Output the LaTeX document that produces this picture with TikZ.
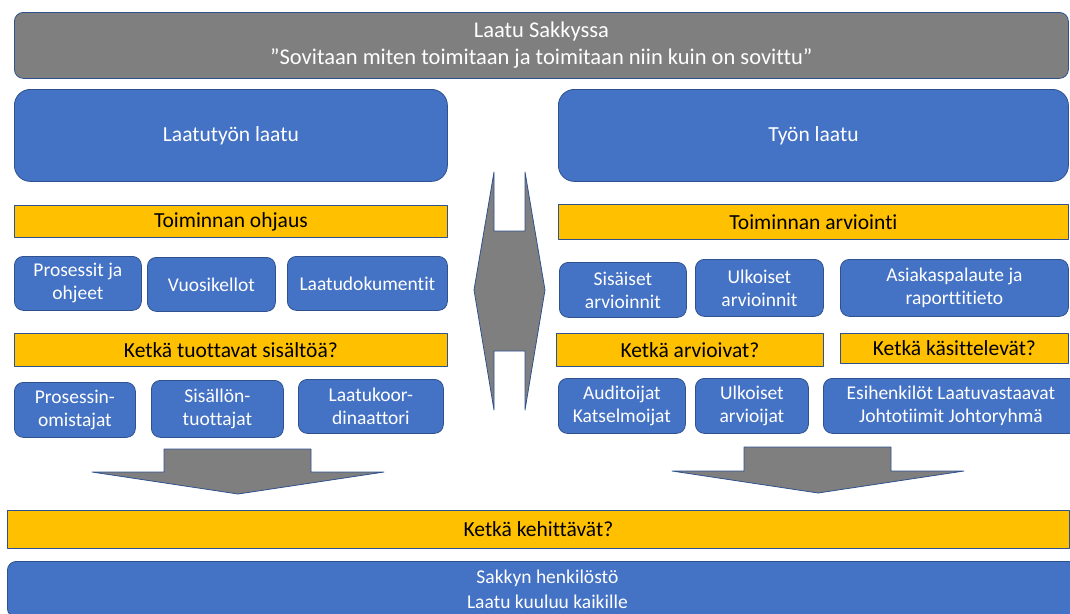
\documentclass[tikz,border=0pt]{standalone}
\usepackage{fontspec}
\setmainfont{Carlito}[Ligatures=NoCommon]
\definecolor{officeblue}{HTML}{4472C4}
\definecolor{officeline}{HTML}{2F528F}
\definecolor{officegold}{HTML}{FFC000}
\definecolor{officegray}{HTML}{7F7F7F}
\begin{document}
\begin{tikzpicture}[x=1pt,y=-1pt,line join=round,
	every node/.style={font=\fontsize{19.5}{23}\selectfont,align=center,inner sep=2pt,anchor=north west},
	bigfont/.style={font=\fontsize{21.5}{26}\selectfont},
	bigbox/.style={draw=officeline,line width=0.8pt,fill=officeblue,text=white,rounded corners=16pt,bigfont},
	bluebox/.style={draw=officeline,line width=0.8pt,fill=officeblue,text=white,rounded corners=9pt},
	goldbar/.style={draw=officeline,line width=0.8pt,fill=officegold,text=black,bigfont},
	graybox/.style={draw=officeline,line width=0.8pt,fill=officegray,text=white,rounded corners=9pt,
		font=\fontsize{22.5}{27}\selectfont},
	grayarrow/.style={draw=officeline,line width=0.8pt,fill=officegray}]
		\clip (0,0) rectangle (1070,613);
		% otsikko
		\node[graybox,minimum width=1054,minimum height=66] (otsikko) at (14,12)
			{Laatu Sakkyssa\\ ”Sovitaan miten toimitaan ja toimitaan niin kuin on sovittu”};
		\node[bigbox,minimum width=433,minimum height=92] (laatutyo) at (14,89) {Laatutyön laatu};
		\node[bigbox,minimum width=510,minimum height=92] (tyonlaatu) at (558,89) {Työn laatu};
		% vasen puoli
		\node[goldbar,minimum width=433,minimum height=32] (ohjaus) at (14,205) {Toiminnan ohjaus};
		\node[bluebox,minimum width=127,minimum height=54] (prosessit) at (14,256) {Prosessit ja\\ ohjeet};
		\node[bluebox,minimum width=128,minimum height=54] (vuosikellot) at (147,257) {Vuosikellot};
		\node[bluebox,minimum width=160,minimum height=54] (dokumentit) at (287,256) {Laatudokumentit};
		\node[goldbar,minimum width=433,minimum height=33] (tuottavat) at (14,333) {Ketkä tuottavat sisältöä?};
		\node[bluebox,minimum width=121,minimum height=55] (omistajat) at (14,382) {Prosessin-\\ omistajat};
		\node[bluebox,minimum width=132,minimum height=57] (tuottajat) at (151,380) {Sisällön-\\ tuottajat};
		\node[bluebox,minimum width=145,minimum height=54] (koordinaattori) at (298,379) {Laatukoor-\\ dinaattori};
		% oikea puoli
		\node[goldbar,minimum width=510,minimum height=35] (arviointi) at (558,204) {Toiminnan arviointi};
		\node[bluebox,minimum width=127,minimum height=55] (sisaiset) at (559,262) {Sisäiset\\ arvioinnit};
		\node[bluebox,minimum width=128,minimum height=57] (ulkoiset) at (695,259) {Ulkoiset\\ arvioinnit};
		\node[bluebox,minimum width=228,minimum height=57] (asiakas) at (840,259) {Asiakaspalaute ja\\ raporttitieto};
		\node[goldbar,minimum width=267,minimum height=33] (arvioivat) at (556,333) {Ketkä arvioivat?};
		\node[goldbar,minimum width=228,minimum height=30] (kasittelevat) at (840,333) {Ketkä käsittelevät?};
		\node[bluebox,minimum width=127,minimum height=55] (auditoijat) at (558,378) {Auditoijat\\ Katselmoijat};
		\node[bluebox,minimum width=113,minimum height=55] (arvioijat) at (695,378) {Ulkoiset\\ arvioijat};
		\node[bluebox,minimum width=255,minimum height=55] (esihenkilot) at (823,378) {Esihenkilöt Laatuvastaavat\\ Johtotiimit Johtoryhmä};
		% nuolet
		\draw[grayarrow] (494,172)--(494,231)--(525,231)--(525,172)--(545,290)--(525,410)
			--(525,351)--(494,351)--(494,410)--(474,290)--cycle;
		\draw[grayarrow] (164,449)--(311,449)--(311,472)--(384,472)--(238,494)--(92,472)--(164,472)--cycle;
		\draw[grayarrow] (744,447)--(891,447)--(891,471)--(964,471)--(818,493)--(672,471)--(744,471)--cycle;
		% alaosa
		\node[goldbar,minimum width=1062,minimum height=38] (kehittavat) at (7,510) {Ketkä kehittävät?};
		\node[bluebox,minimum width=1080,minimum height=56,inner sep=0pt,
			font=\fontsize{19.5}{25}\selectfont] (henkilosto) at (7,561)
			{Sakkyn henkilöstö\\ Laatu kuuluu kaikille};
\end{tikzpicture}
\end{document}
